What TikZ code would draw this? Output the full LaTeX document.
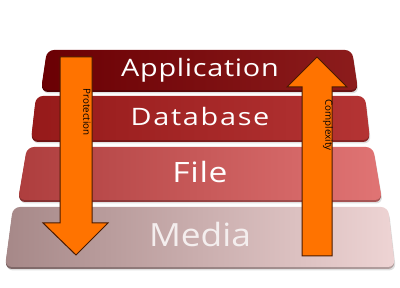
\documentclass[tikz,border=0pt]{standalone}
\usepackage{fontspec}
\setmainfont{Open Sans}
\newfontfamily\lsA[LetterSpace=2.5]{Open Sans}
\newfontfamily\lsB[LetterSpace=6]{Open Sans}
\newfontfamily\lsC[LetterSpace=2]{Open Sans}
\usetikzlibrary{shadows}
\definecolor{appL}{HTML}{6A0004}
\definecolor{appR}{HTML}{8C1C1C}
\definecolor{dbL}{HTML}{961A1A}
\definecolor{dbR}{HTML}{B43434}
\definecolor{fiL}{HTML}{AE3E3E}
\definecolor{fiR}{HTML}{E07474}
\definecolor{meL}{HTML}{A68888}
\definecolor{meR}{HTML}{EED4D4}
\definecolor{arrowfill}{HTML}{FF7300}
\definecolor{arrowline}{HTML}{4A1A00}
\definecolor{medtext}{HTML}{F4EEEE}
\tikzset{
  layer/.style={rounded corners=7pt},
  layeredge/.style={rounded corners=7pt, drop shadow={shadow xshift=1pt, shadow yshift=-1.5pt, opacity=0.25}},
  layertext/.style={text=white, anchor=center, xscale=1.2},
  bigarrow/.style={fill=arrowfill, draw=arrowline, line width=1pt, line join=miter},
  arrowlabel/.style={rotate=-90, font=\fontsize{9.8}{11}\selectfont, text=black, inner sep=0pt}
}
\begin{document}
\begin{tikzpicture}[x=1pt,y=-1pt]
\useasboundingbox (0,0) rectangle (400,288);
% layers: edge (bevel) then face
\path[layeredge, left color=meL!75!black, right color=meR!75!black] (13,209) -- (388,209) -- (395,269) -- (5,269) -- cycle;
\path[layer, left color=meL, right color=meR] (13,207) -- (388,207) -- (395,267) -- (5,267) -- cycle;
\path[layeredge, left color=fiL!75!black, right color=fiR!75!black] (27,149) -- (373,149) -- (382,202) -- (18,202) -- cycle;
\path[layer, left color=fiL, right color=fiR] (27,147) -- (373,147) -- (382,200) -- (18,200) -- cycle;
\path[layeredge, left color=dbL!75!black, right color=dbR!75!black] (36,98) -- (365,98) -- (370,142) -- (31,142) -- cycle;
\path[layer, left color=dbL, right color=dbR] (36,96) -- (365,96) -- (370,140) -- (31,140) -- cycle;
\path[layeredge, left color=appL!75!black, right color=appR!75!black] (47,52) -- (352,52) -- (358,92) -- (41,92) -- cycle;
\path[layer, left color=appL, right color=appR] (47,50) -- (352,50) -- (358,90) -- (41,90) -- cycle;
% layer texts
\node[layertext, font=\lsA\fontsize{24}{28}\selectfont] (app) at (200,70) {Application};
\node[layertext, font=\lsB\fontsize{24}{28}\selectfont] (db) at (200,117) {Database};
\node[layertext, font=\lsC\fontsize{28}{32}\selectfont] (file) at (200,172) {File};
\node[layertext, xscale=0.92, text=medtext, font=\fontsize{32}{36}\selectfont] (media) at (200,235) {Media};
% down arrow (Protection)
\draw[bigarrow] (60,57) -- (92,57) -- (92,223) -- (108,223) -- (76,255) -- (43,223) -- (60,223) -- cycle;
\node[arrowlabel] (prot) at (87,112) {Protection};
% up arrow (Complexity)
\draw[bigarrow] (302,256) -- (302,87) -- (287,87) -- (317,57) -- (347,87) -- (332,87) -- (332,256) -- cycle;
\node[arrowlabel] (comp) at (328,125) {Complexity};
\end{tikzpicture}
\end{document}
